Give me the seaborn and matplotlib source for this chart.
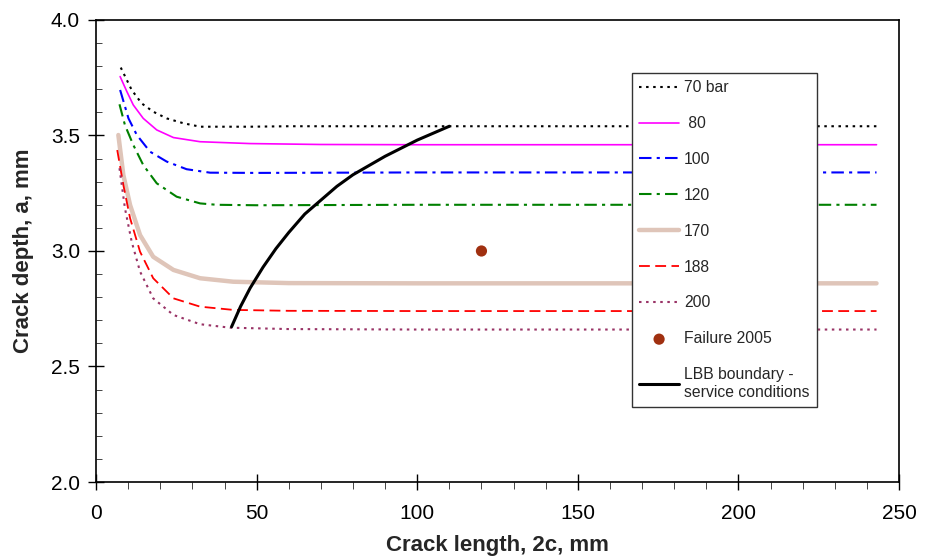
import numpy as np
import pandas as pd
import seaborn as sns
import matplotlib.pyplot as plt
from matplotlib.ticker import MultipleLocator

sns.set_style("ticks")
plt.rcParams['font.family'] = ['Liberation Sans', 'DejaVu Sans']

# ---------------------------------------------------------------
# Data
# ---------------------------------------------------------------
x_70 = [7.7, 11.1, 14.2, 17.8, 22.0, 27.2, 32.4, 47.9, 60, 100, 150, 200, 243]
y_70 = [3.794, 3.697, 3.639, 3.603, 3.574, 3.553, 3.538, 3.538, 3.54, 3.54, 3.54, 3.54, 3.54]

x_80 = [7.5, 9.6, 11.6, 14.7, 18.9, 24.1, 32.4, 47.9, 70, 100, 150, 200, 243]
y_80 = [3.755, 3.690, 3.632, 3.574, 3.524, 3.491, 3.473, 3.465, 3.461, 3.46, 3.46, 3.46, 3.46]

x_100 = [7.5, 10.1, 12.7, 16.8, 22.0, 28.2, 35.5, 50, 100, 150, 200, 243]
y_100 = [3.697, 3.574, 3.502, 3.430, 3.387, 3.354, 3.339, 3.338, 3.34, 3.34, 3.34, 3.34]

x_120 = [7.3, 9.0, 11.6, 14.7, 18.9, 25.1, 32.4, 37.5, 50, 100, 150, 200, 243]
y_120 = [3.635, 3.545, 3.459, 3.372, 3.293, 3.235, 3.206, 3.200, 3.198, 3.20, 3.20, 3.20, 3.20]

x_170 = [6.95, 8.5, 10.6, 13.7, 17.8, 24.1, 32.4, 42.7, 60, 100, 150, 200, 243]
y_170 = [3.502, 3.329, 3.199, 3.069, 2.975, 2.918, 2.882, 2.867, 2.861, 2.86, 2.86, 2.86, 2.86]

x_188 = [6.6, 8.5, 10.6, 13.7, 17.8, 24.1, 32.4, 42.7, 60, 100, 150, 200, 243]
y_188 = [3.437, 3.286, 3.142, 2.997, 2.882, 2.795, 2.759, 2.745, 2.741, 2.74, 2.74, 2.74, 2.74]

x_200 = [7.3, 9.0, 11.1, 13.7, 17.8, 24.1, 32.4, 41.7, 60, 100, 150, 200, 243]
y_200 = [3.358, 3.185, 3.040, 2.911, 2.795, 2.723, 2.683, 2.668, 2.662, 2.66, 2.66, 2.66, 2.66]

fail_x = [120]
fail_y = [3.0]

lbb_x = [42.2, 45, 48, 52, 56, 60, 65, 70, 75, 80, 90, 100, 110]
lbb_y = [2.672, 2.76, 2.84, 2.93, 3.01, 3.08, 3.16, 3.22, 3.28, 3.33, 3.41, 3.48, 3.54]

series = [
    ("70 bar", x_70, y_70, "black", (0, (1.2, 2.2)), 1.5),
    (" 80", x_80, y_80, "#ff00ff", "-", 1.2),
    ("100", x_100, y_100, "#0000ff", (0, (6, 2.5, 1.5, 2.5)), 1.5),
    ("120", x_120, y_120, "#008000", (0, (6, 2.5, 1.5, 2.5)), 1.5),
    ("170", x_170, y_170, "#dfc5b9", "-", 3.2),
    ("188", x_188, y_188, "#ff0000", (0, (6, 3)), 1.3),
    ("200", x_200, y_200, "#993366", (0, (1.2, 2.2)), 1.5),
]

# ---------------------------------------------------------------
# Plot
# ---------------------------------------------------------------
fig = plt.figure(figsize=(9.27, 5.58), dpi=100)
ax = fig.add_axes([0.1036, 0.1362, 0.8662, 0.828])

for lab, xs, ys, col, ls, lw in series:
    sns.lineplot(x=xs, y=ys, ax=ax, color=col, linestyle=ls, linewidth=lw,
                 label=lab, sort=False)

sns.scatterplot(x=fail_x, y=fail_y, ax=ax, color="#a03010", s=65,
                edgecolor="none", label="Failure 2005", zorder=5)
sns.lineplot(x=lbb_x, y=lbb_y, ax=ax, color="black", linewidth=2.2,
             label="LBB boundary -\nservice conditions", sort=False)

ax.set_xlim(0, 250)
ax.set_ylim(2.0, 4.0)
ax.xaxis.set_major_locator(MultipleLocator(50))
ax.xaxis.set_minor_locator(MultipleLocator(10))
ax.yaxis.set_major_locator(MultipleLocator(0.5))
ax.yaxis.set_minor_locator(MultipleLocator(0.1))
ax.yaxis.set_major_formatter(plt.FormatStrFormatter("%.1f"))
ax.tick_params(which="major", direction="inout", length=11, width=1,
               labelsize=15, colors="black")
ax.tick_params(axis="x", which="minor", direction="out", length=5)
ax.tick_params(axis="y", which="minor", direction="in", length=4)
ax.tick_params(axis="x", pad=10)
ax.tick_params(axis="y", pad=6)

for sp in ax.spines.values():
    sp.set_visible(True)
    sp.set_color("black")
    sp.set_linewidth(1.2)

ax.set_xlabel("Crack length, 2c, mm", fontsize=16, fontweight="bold", labelpad=9)
ax.set_ylabel("Crack depth, a, mm", fontsize=16, fontweight="bold", labelpad=12)

leg = ax.legend(loc="upper left", bbox_to_anchor=(0.667, 0.885), fontsize=11.3,
                frameon=True, fancybox=False, edgecolor="#333333", framealpha=1,
                handlelength=2.6, labelspacing=1.33, borderpad=0.45,
                handletextpad=0.3, borderaxespad=0)
leg.get_frame().set_linewidth(1.0)

plt.savefig("out.png", dpi=100)
